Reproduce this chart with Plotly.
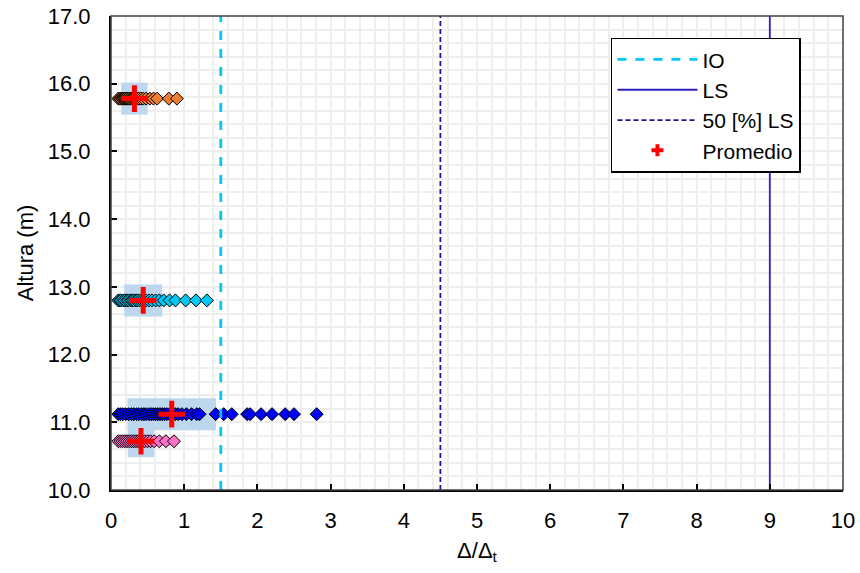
import plotly.graph_objects as go

# Normalised drift ratio per storey level (Δ/Δt) and the level heights (m)
heights = [15.78, 12.80, 11.12, 10.72]
series_colors = ["#ED7D31", "#00C8F5", "#0000FF", "#FF6EC7"]

drift_1578 = [0.10, 0.12, 0.13, 0.15, 0.16, 0.18, 0.19, 0.21, 0.22, 0.24, 0.25, 0.27,
              0.28, 0.30, 0.32, 0.34, 0.36, 0.38, 0.41, 0.44, 0.48, 0.53, 0.58, 0.63,
              0.79, 0.90]
drift_1280 = [0.10, 0.12, 0.14, 0.17, 0.19, 0.22, 0.24, 0.27, 0.29, 0.31, 0.34, 0.36,
              0.39, 0.42, 0.45, 0.48, 0.52, 0.56, 0.61, 0.66, 0.72, 0.80, 0.88, 1.02,
              1.16, 1.31]
drift_1112 = [0.10, 0.13, 0.16, 0.20, 0.24, 0.28, 0.31, 0.35, 0.38, 0.42, 0.45, 0.48,
              0.52, 0.55, 0.58, 0.61, 0.64, 0.67, 0.70, 0.73, 0.76, 0.80, 0.84, 0.88,
              0.92, 0.97, 1.03, 1.10, 1.17, 1.21, 1.43, 1.54, 1.65, 1.86, 1.90, 2.05,
              2.20, 2.38, 2.50, 2.81]
drift_1072 = [0.10, 0.13, 0.16, 0.19, 0.22, 0.25, 0.28, 0.31, 0.34, 0.37, 0.40, 0.43,
              0.46, 0.50, 0.54, 0.59, 0.66, 0.75, 0.86]
drift_sets = [drift_1578, drift_1280, drift_1112, drift_1072]

# Mean and standard deviation of each level
mean_drift = [0.32, 0.44, 0.83, 0.41]
std_drift = [0.18, 0.26, 0.605, 0.18]

# Performance limits
limit_io = 1.5
limit_ls = 9.0
limit_ls50 = 4.5

x_ticks = list(range(0, 11))
y_ticks = [10.0, 11.0, 12.0, 13.0, 14.0, 15.0, 16.0, 17.0]

FONT = "Liberation Sans, Arial"
GRID = "#EEEEEE"

fig = go.Figure()

# Standard deviation band around each mean
fig.add_trace(go.Scatter(
    x=mean_drift, y=heights, mode="markers",
    marker=dict(size=1, opacity=0),
    error_x=dict(type="data", array=std_drift, visible=True,
                 color="#BDD7EE", thickness=32, width=0),
    showlegend=False, hoverinfo="skip",
))

# Individual drift values
for h, vals, col in zip(heights, drift_sets, series_colors):
    fig.add_trace(go.Scatter(
        x=vals, y=[h] * len(vals), mode="markers",
        marker=dict(symbol="diamond", size=10, color=col,
                    line=dict(color="#000000", width=1)),
        showlegend=False,
    ))

# Limit lines
fig.add_trace(go.Scatter(
    x=[limit_io, limit_io], y=[y_ticks[0], y_ticks[-1]], mode="lines",
    line=dict(color="#00C8F5", width=2.8, dash="9px,9px"),
    name="IO", legendrank=1,
))
fig.add_trace(go.Scatter(
    x=[limit_ls, limit_ls], y=[y_ticks[0], y_ticks[-1]], mode="lines",
    line=dict(color="#2D1FC0", width=1.8),
    name="LS", legendrank=2,
))
fig.add_trace(go.Scatter(
    x=[limit_ls50, limit_ls50], y=[y_ticks[0], y_ticks[-1]], mode="lines",
    line=dict(color="#1E1496", width=1.8, dash="5px,3px"),
    name="50 [%] LS", legendrank=3,
))

# Mean markers
fig.add_trace(go.Scatter(
    x=mean_drift, y=heights, mode="markers",
    marker=dict(symbol="cross-thin", size=19, color="#FF0000",
                line=dict(color="#FF0000", width=5)),
    name="Promedio", showlegend=False,
))
# Legend entry for the mean markers, drawn with a compact cross
fig.add_trace(go.Scatter(
    x=[None], y=[None], mode="markers",
    marker=dict(symbol="cross", size=10, color="#FF0000"),
    name="Promedio", legendrank=4,
))

axis_common = dict(
    showline=True, linecolor="#000000", linewidth=2,
    ticks="inside", ticklen=6, tickwidth=1.5, tickcolor="#000000",
    showgrid=True, gridcolor=GRID, gridwidth=1.5,
    zeroline=False, automargin=False,
    tickfont=dict(family=FONT, size=22, color="#000000"),
)

fig.update_layout(
    width=860, height=573,
    margin=dict(l=111, r=17, t=16, b=83),
    paper_bgcolor="#FFFFFF", plot_bgcolor="#FFFFFF",
    font=dict(family=FONT, size=22, color="#000000"),
    xaxis=dict(
        range=[0, 10], tickvals=x_ticks, ticktext=[str(v) for v in x_ticks],
        minor=dict(dtick=0.2, showgrid=True, gridcolor=GRID, gridwidth=1.5),
        ticklabelstandoff=10,
        title=dict(text="Δ/Δ<sub>t</sub>", standoff=10,
                   font=dict(family=FONT, size=22)),
        **axis_common,
    ),
    yaxis=dict(
        range=[10, 17], tickvals=y_ticks, ticktext=[f"{v:.1f}" for v in y_ticks],
        minor=dict(dtick=0.2, showgrid=True, gridcolor=GRID, gridwidth=1.5),
        ticklabelstandoff=14,
        title=dict(text="Altura (m)", standoff=8,
                   font=dict(family=FONT, size=22)),
        **axis_common,
    ),
    legend=dict(
        x=0.683, y=0.954, xanchor="left", yanchor="top",
        bgcolor="#FFFFFF", bordercolor="#000000", borderwidth=1.5,
        font=dict(family=FONT, size=21),
        itemwidth=80, tracegroupgap=0,
    ),
    shapes=[dict(type="rect", xref="paper", yref="paper", x0=0, x1=1, y0=0, y1=1,
                 line=dict(color="#404040", width=1.5), layer="above")],
)

fig.write_html("out.html")
